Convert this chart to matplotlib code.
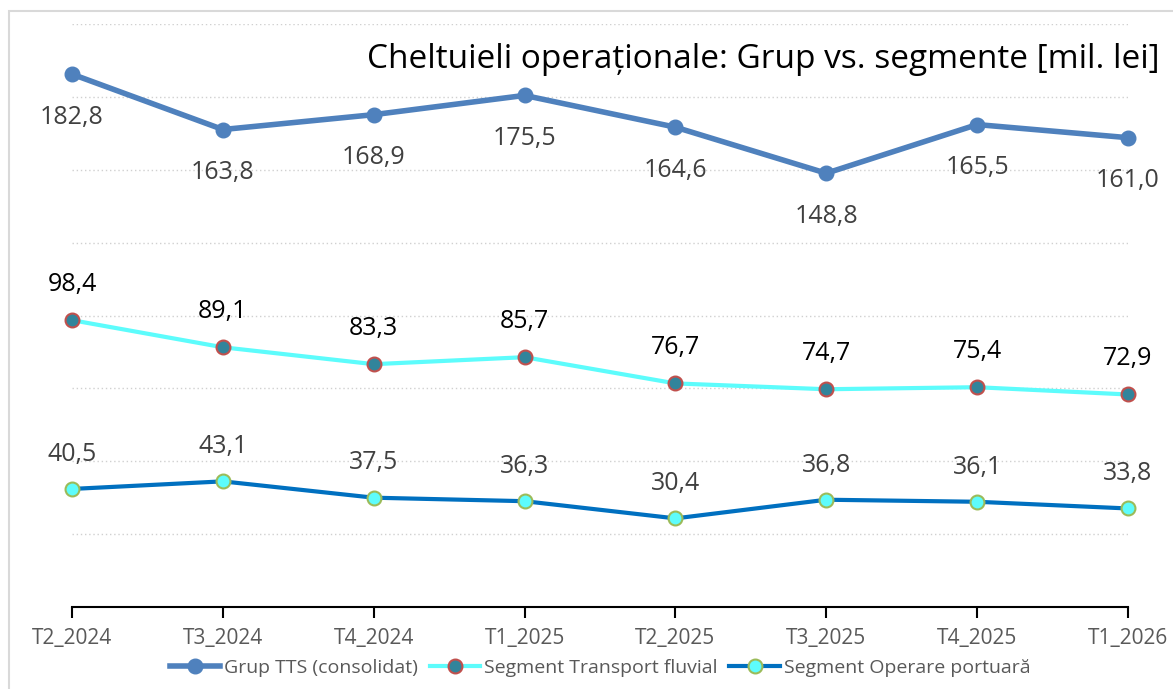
import matplotlib
matplotlib.use("Agg")
import matplotlib.pyplot as plt
from matplotlib.patches import Rectangle

# --- date ---
quarters = ["T2_2024", "T3_2024", "T4_2024", "T1_2025",
            "T2_2025", "T3_2025", "T4_2025", "T1_2026"]
grup = [182.8, 163.8, 168.9, 175.5, 164.6, 148.8, 165.5, 161.0]
transport = [98.4, 89.1, 83.3, 85.7, 76.7, 74.7, 75.4, 72.9]
operare = [40.5, 43.1, 37.5, 36.3, 30.4, 36.8, 36.1, 33.8]
names = ["Grup TTS (consolidat)", "Segment Transport fluvial",
         "Segment Operare portuară"]
title = "Cheltuieli operaționale: Grup vs. segmente [mil. lei]"

plt.rcParams["font.family"] = ["Open Sans", "DejaVu Sans"]

fig = plt.figure(figsize=(11.73, 6.89), dpi=100)
ax = fig.add_axes([72 / 1173, 1 - 607 / 689, (1128 - 72) / 1173, (607 - 24) / 689])

# cadru exterior gri
fig.patches.append(Rectangle((9 / 1173, -0.1), 1.2, 1 - 11 / 689 + 0.1,
                             transform=fig.transFigure, fill=False,
                             edgecolor="#d9d9d9", linewidth=1.5))

x = list(range(len(quarters)))

ax.plot(x, grup, color="#4f81bd", lw=4, marker="o", ms=10.5,
        mfc="#4f81bd", mec="#4f81bd", clip_on=False, zorder=3, label=names[0])
ax.plot(x, transport, color="#5dfcfc", lw=3, marker="o", ms=10,
        mfc="#31849b", mec="#c0504d", mew=1.5, clip_on=False, zorder=3,
        label=names[1])
ax.plot(x, operare, color="#0070c0", lw=3, marker="o", ms=10,
        mfc="#5dfcfc", mec="#9bbb59", mew=1.5, clip_on=False, zorder=3,
        label=names[2])

def fmt(v):
    return f"{v:.1f}".replace(".", ",")

for i in x:
    ax.annotate(fmt(grup[i]), (i, grup[i]), xytext=(0, -31),
                textcoords="offset points", ha="center", va="center",
                fontsize=18, color="#404040")
    ax.annotate(fmt(transport[i]), (i, transport[i]), xytext=(0, 26),
                textcoords="offset points", ha="center", va="center",
                fontsize=18, color="black")
    ax.annotate(fmt(operare[i]), (i, operare[i]), xytext=(0, 25),
                textcoords="offset points", ha="center", va="center",
                fontsize=18, color="#404040")

ax.set_xlim(0, 7)
ax.set_ylim(0, 200)
ax.set_yticks(range(25, 201, 25))
ax.yaxis.grid(True, linestyle=(0, (1, 2)), color="#d0d0d0", lw=1)
ax.tick_params(axis="y", left=False, labelleft=False)
ax.set_xticks(x)
ax.set_xticklabels(quarters, fontsize=15, color="#595959")
ax.tick_params(axis="x", direction="out", length=8, width=1.5,
               color="black", pad=7)
for s in ["top", "right", "left"]:
    ax.spines[s].set_visible(False)
ax.spines["bottom"].set_linewidth(1.5)
ax.spines["bottom"].set_color("black")

ax.text(1.0, 0.915, title, transform=ax.transAxes, ha="left", va="center",
        fontsize=24, color="black")

leg = ax.legend(loc="center", bbox_to_anchor=(0.5, -0.105), ncol=3,
                frameon=False, fontsize=14, handlelength=2.6,
                handletextpad=0.2, columnspacing=0.6, labelcolor="#595959")

# titlu aliniat la dreapta la x=1160 px
fig.canvas.draw()
t = ax.texts[-1]
bb = t.get_window_extent()
shift = (1160 - bb.x1) / fig.bbox.width
t.set_transform(fig.transFigure)
t.set_position((bb.x0 / fig.bbox.width + shift, 1 - 60 / 689))

fig.savefig("out.png", dpi=100)
